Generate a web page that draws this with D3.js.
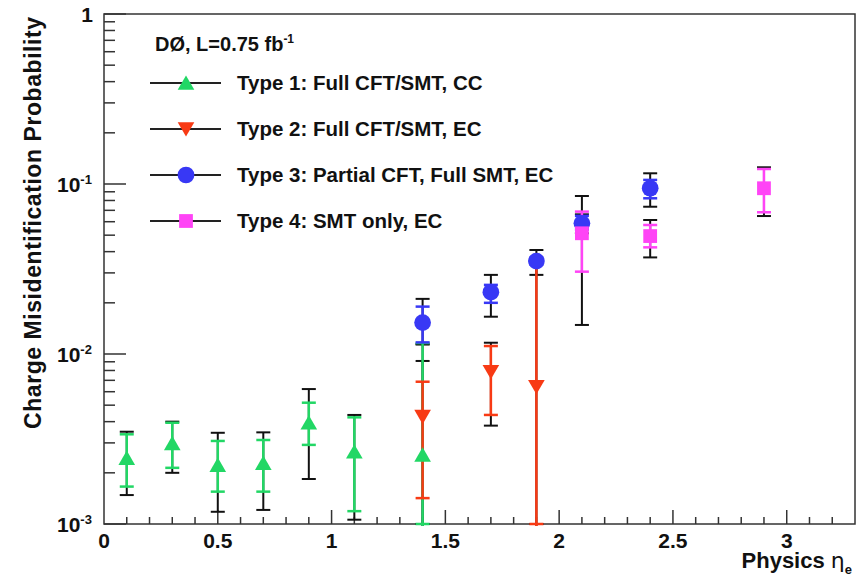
<!DOCTYPE html>
<html>
<head>
<meta charset="utf-8">
<script src="https://cdn.jsdelivr.net/npm/d3@7"></script>
<style>
  body { margin: 0; background: #fff; }
  text { font-family: "Liberation Sans", Arial, sans-serif; font-weight: bold; fill: #111; }
</style>
</head>
<body>
<script>
var width = 863;
var height = 579;

// series data: eta, value, stat low/high, total low/high
var type1Eta = [0.1, 0.3, 0.5, 0.7, 0.9, 1.1, 1.4];
var type1Val = [0.00244, 0.00298, 0.00222, 0.00228, 0.00394, 0.00266, 0.00255];
var type1StatLo = [0.00166, 0.00214, 0.00155, 0.00155, 0.00292, 0.00119, 0.0001];
var type1StatHi = [0.00337, 0.00394, 0.00308, 0.00312, 0.00517, 0.00424, 0.0116];
var type1TotLo = [0.00148, 0.0020, 0.00118, 0.00121, 0.00184, 0.00106, 0.0001];
var type1TotHi = [0.00349, 0.0040, 0.00344, 0.00346, 0.00622, 0.00438, 0.0114];

var type2Eta = [1.4, 1.7, 1.9];
var type2Val = [0.00428, 0.00787, 0.00642];
var type2StatLo = [0.00142, 0.00438, 0.0001];
var type2StatHi = [0.00687, 0.01114, 0.0354];
var type2TotLo = [0.0001, 0.00379, 0.0001];
var type2TotHi = [0.0091, 0.01165, 0.0354];

var type3Eta = [1.4, 1.7, 1.9, 2.1, 2.4];
var type3Val = [0.0153, 0.0231, 0.0352, 0.0587, 0.0944];
var type3StatLo = [0.0117, 0.0200, 0.0335, 0.0540, 0.0824];
var type3StatHi = [0.0190, 0.0255, 0.0370, 0.0650, 0.1057];
var type3TotLo = [0.0114, 0.01657, 0.0292, 0.0513, 0.0735];
var type3TotHi = [0.0211, 0.0292, 0.0409, 0.0850, 0.1156];

var type4Eta = [2.1, 2.4, 2.9];
var type4Val = [0.0513, 0.0494, 0.0944];
var type4StatLo = [0.0305, 0.0424, 0.0682];
var type4StatHi = [0.0688, 0.0574, 0.1225];
var type4TotLo = [0.01482, 0.0370, 0.0648];
var type4TotHi = [0.0663, 0.0614, 0.1254];

var legendLabels = ["Type 1: Full CFT/SMT, CC", "Type 2: Full CFT/SMT, EC",
  "Type 3: Partial CFT, Full SMT, EC", "Type 4: SMT only, EC"];
var xTickLabels = ["0", "0.5", "1", "1.5", "2", "2.5", "3"];
var yTickExp = [0, -1, -2, -3];

function rows(eta, val, sLo, sHi, tLo, tHi) {
  return eta.map(function (e, i) {
    return { x: e, y: val[i], sLo: sLo[i], sHi: sHi[i], tLo: tLo[i], tHi: tHi[i] };
  });
}

var series = [
  { name: legendLabels[0], color: "#22d765", shape: "up", data: rows(type1Eta, type1Val, type1StatLo, type1StatHi, type1TotLo, type1TotHi) },
  { name: legendLabels[1], color: "#f83a14", shape: "down", data: rows(type2Eta, type2Val, type2StatLo, type2StatHi, type2TotLo, type2TotHi) },
  { name: legendLabels[2], color: "#3838f5", shape: "circle", data: rows(type3Eta, type3Val, type3StatLo, type3StatHi, type3TotLo, type3TotHi) },
  { name: legendLabels[3], color: "#ff44f6", shape: "square", data: rows(type4Eta, type4Val, type4StatLo, type4StatHi, type4TotLo, type4TotHi) }
];

var pLeft = 104, pRight = 855, pTop = 14, pBottom = 524;

var svg = d3.select("body").append("svg")
  .attr("width", width)
  .attr("height", height);

var x = d3.scaleLinear().domain([0, 3.3]).range([pLeft, pRight]);
var y = d3.scaleLog().domain([0.001, 1]).range([pBottom, pTop]);

svg.append("defs").append("clipPath").attr("id", "plotclip")
  .append("rect").attr("x", pLeft).attr("y", pTop)
  .attr("width", pRight - pLeft).attr("height", pBottom - pTop + 2);

// frame
svg.append("rect")
  .attr("x", pLeft).attr("y", pTop)
  .attr("width", pRight - pLeft).attr("height", pBottom - pTop)
  .attr("fill", "none").attr("stroke", "#333").attr("stroke-width", 1.5);

// x ticks
var xMinor = d3.range(1, 33).map(function (i) { return i / 10; });
svg.append("g").selectAll("line")
  .data(xMinor)
  .enter().append("line")
  .attr("x1", function (d) { return x(d); })
  .attr("x2", function (d) { return x(d); })
  .attr("y1", pBottom)
  .attr("y2", function (d, i) { return (i + 1) % 5 == 0 ? pBottom - 14 : pBottom - 7; })
  .attr("stroke", "#333").attr("stroke-width", 1.5);

svg.append("g").selectAll("text")
  .data(xTickLabels)
  .enter().append("text")
  .attr("x", function (d) { return x(+d); })
  .attr("y", 548)
  .attr("text-anchor", "middle")
  .attr("font-size", 21)
  .text(function (d) { return d; });

// y ticks
var yMinor = [];
[-3, -2, -1].forEach(function (e) {
  d3.range(2, 10).forEach(function (m) { yMinor.push(m * Math.pow(10, e)); });
});
svg.append("g").selectAll("line")
  .data(yMinor)
  .enter().append("line")
  .attr("x1", pLeft).attr("x2", pLeft + 11)
  .attr("y1", function (d) { return y(d); })
  .attr("y2", function (d) { return y(d); })
  .attr("stroke", "#333").attr("stroke-width", 1.5);
svg.append("g").selectAll("line")
  .data(yTickExp)
  .enter().append("line")
  .attr("x1", pLeft).attr("x2", pLeft + 22)
  .attr("y1", function (d) { return y(Math.pow(10, d)); })
  .attr("y2", function (d) { return y(Math.pow(10, d)); })
  .attr("stroke", "#333").attr("stroke-width", 1.5);

var yLab = svg.append("g").selectAll("text")
  .data(yTickExp)
  .enter().append("text")
  .attr("x", function (d) { return d == 0 ? 93 : 57; })
  .attr("y", function (d) { return y(Math.pow(10, d)) + 8; })
  .attr("text-anchor", function (d) { return d == 0 ? "end" : "start"; })
  .attr("font-size", 21);
yLab.each(function (d) {
  var t = d3.select(this);
  if (d == 0) {
    t.text("1");
  } else {
    t.append("tspan").text("10");
    t.append("tspan").attr("font-size", 13).attr("dy", -8).text(d);
  }
});

// axis titles
svg.append("text")
  .attr("transform", "translate(41,17) rotate(-90)")
  .attr("text-anchor", "end")
  .attr("font-size", 23)
  .attr("textLength", 412)
  .attr("lengthAdjust", "spacing")
  .text("Charge Misidentification Probability");

var xt = svg.append("text")
  .attr("x", 852).attr("y", 568)
  .attr("text-anchor", "end")
  .attr("font-size", 22);
xt.append("tspan").text("Physics ");
xt.append("tspan").attr("font-weight", "normal").attr("font-family", "DejaVu Sans").text("\u03b7");
xt.append("tspan").attr("font-size", 13).attr("dy", 6).text("e");

// markers
function markerPath(shape) {
  if (shape == "circle") return d3.symbol(d3.symbolCircle, 220)();
  if (shape == "square") return d3.symbol(d3.symbolSquare, 190)();
  return d3.symbol(d3.symbolTriangle, 120)();
}
function markerTransform(shape, px, py) {
  var t = "translate(" + px + "," + py + ")";
  if (shape == "up") t += " translate(0,2)";
  if (shape == "down") t += " translate(0,-2) rotate(180)";
  return t;
}

var plot = svg.append("g").attr("clip-path", "url(#plotclip)");

function errorBars(g, data, lo, hi, color, width) {
  var cap = 7;
  g.selectAll("line.v")
    .data(data).enter().append("line")
    .attr("x1", function (d) { return x(d.x); })
    .attr("x2", function (d) { return x(d.x); })
    .attr("y1", function (d) { return y(Math.max(d[lo], 0.0009)); })
    .attr("y2", function (d) { return y(d[hi]); })
    .attr("stroke", color).attr("stroke-width", width);
  [lo, hi].forEach(function (k) {
    g.selectAll("line.c" + k)
      .data(data).enter().append("line")
      .attr("x1", function (d) { return x(d.x) - cap; })
      .attr("x2", function (d) { return x(d.x) + cap; })
      .attr("y1", function (d) { return y(Math.max(d[k], 0.001)); })
      .attr("y2", function (d) { return y(Math.max(d[k], 0.001)); })
      .attr("stroke", color).attr("stroke-width", width);
  });
}

// total (black) first, then statistical (coloured), then markers
series.forEach(function (s) {
  errorBars(plot.append("g"), s.data, "tLo", "tHi", "#111", 2);
});
series.forEach(function (s) {
  errorBars(plot.append("g"), s.data, "sLo", "sHi", s.color, 2.5);
});
series.forEach(function (s) {
  plot.append("g").selectAll("path")
    .data(s.data).enter().append("path")
    .attr("d", markerPath(s.shape))
    .attr("transform", function (d) { return markerTransform(s.shape, x(d.x), y(d.y)); })
    .attr("fill", s.color);
});

// legend
var lg = svg.append("g");
var lt = lg.append("text").attr("x", 155).attr("y", 51).attr("font-size", 20);
lt.append("tspan").text("D\u00d8, L=0.75 fb");
lt.append("tspan").attr("font-size", 12).attr("dy", -8).text("-1");

var legendY = d3.scaleLinear().domain([0, 3]).range([83, 221]);
var items = lg.selectAll("g.item")
  .data(series).enter().append("g")
  .attr("transform", function (d, i) { return "translate(0," + legendY(i) + ")"; });
items.append("line")
  .attr("x1", 150).attr("x2", 221).attr("y1", 0).attr("y2", 0)
  .attr("stroke", "#222").attr("stroke-width", 2);
items.append("path")
  .attr("d", function (d) { return markerPath(d.shape); })
  .attr("transform", function (d) { return markerTransform(d.shape, 186, 0); })
  .attr("fill", function (d) { return d.color; });
items.append("text")
  .attr("x", 237).attr("y", 7)
  .attr("font-size", 20.5)
  .text(function (d) { return d.name; });
</script>
</body>
</html>
